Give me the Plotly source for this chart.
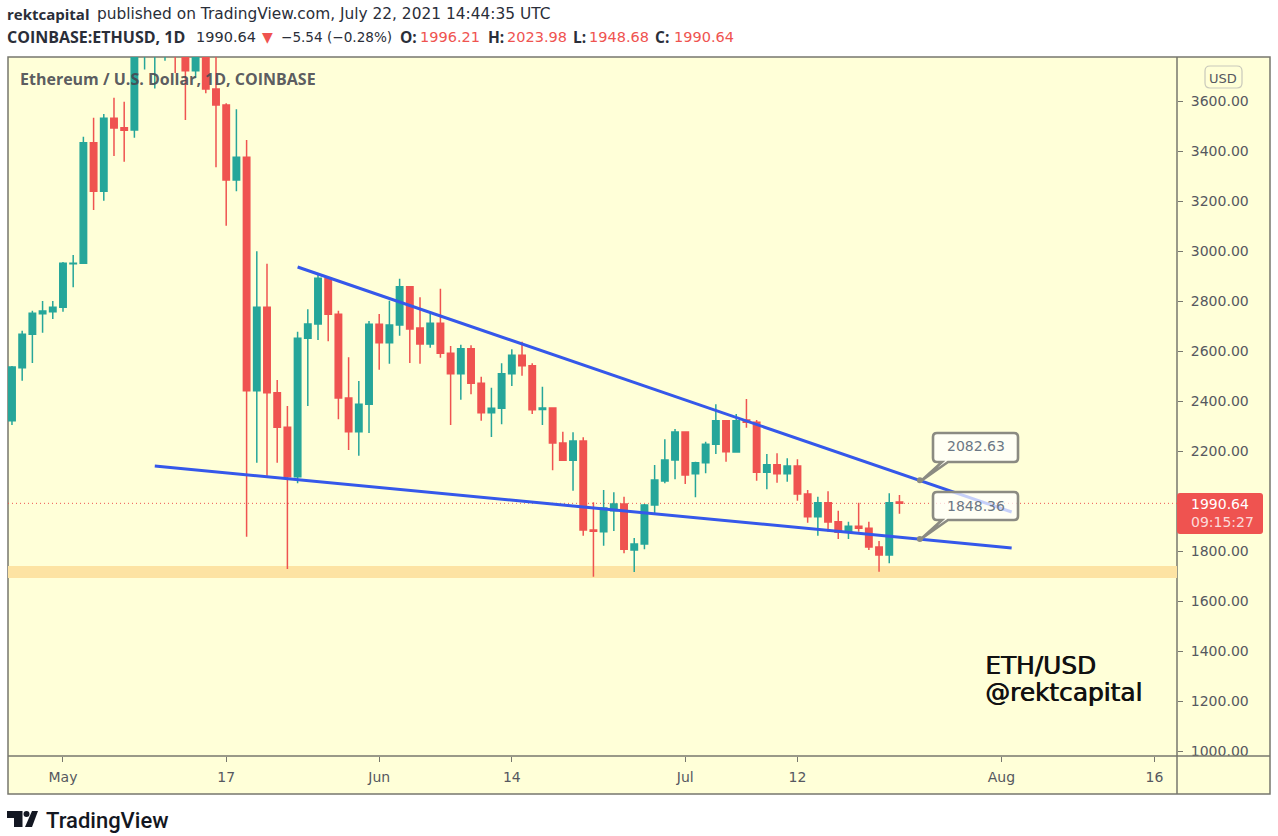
import pandas as pd
import plotly.graph_objects as go

START_DATE = "2021-04-26"
opens = [2321,2533,2667,2749,2757,2775,2949,2951,3433,3239,3531,3493,3484,3900,3925,3950,4170,3810,3721,4080,
         3648,3584,3284,3375,2441,2775,2433,2295,2097,2651,2708,2891,2747,2412,2277,2387,2707,2633,2704,2857,
         2692,2628,2711,2591,2509,2609,2471,2353,2371,2509,2583,2541,2366,2372,2232,2163,2240,1884,1877,1961,
         1988,1804,1828,1984,2080,2164,2276,2109,2153,2227,2321,2196,2324,2315,2115,2145,2109,2140,2028,1937,
         1993,1917,1875,1899,1891,1816,1784,1996.21]
highs = [2540,2681,2761,2800,2800,2956,2984,3457,3533,3548,3613,3597,3950,3990,4200,4200,4380,4030,4150,4130,
         3800,3591,3567,3444,2999,2949,2484,2380,2677,2767,2912,2897,2761,2575,2480,2720,2748,2801,2889,2860,
         2815,2751,2849,2620,2625,2623,2497,2453,2551,2607,2637,2551,2457,2375,2277,2275,2255,1995,2044,2035,
         2017,1852,1988,2144,2247,2288,2278,2157,2237,2387,2323,2348,2408,2324,2188,2191,2171,2167,2044,2017,
         2039,1961,1917,1993,1917,1840,2031,2023.98]
lows = [2304,2481,2552,2673,2728,2757,2855,2948,3164,3201,3380,3357,3453,3726,3650,3761,3712,3524,3692,3631,
        3335,3101,3239,1857,2153,2101,2153,1728,2071,2380,2644,2639,2327,2204,2181,2272,2525,2549,2661,2552,
        2549,2613,2573,2304,2405,2427,2321,2256,2307,2460,2501,2348,2304,2123,2160,2041,1861,1697,1821,1880,
        1791,1716,1807,1951,2071,2087,2068,2015,2111,2188,2157,2193,2293,2081,2047,2073,2077,2001,1913,1861,
        1877,1848,1848,1877,1804,1717,1751,1948.68]
closes = [2536,2667,2751,2760,2775,2951,2951,3433,3239,3531,3492,3483,3900,3925,3950,4170,3810,3721,4080,3648,
          3584,3284,3375,2441,2775,2433,2295,2097,2651,2708,2891,2747,2412,2277,2387,2707,2633,2704,2857,2688,
          2628,2711,2591,2509,2609,2471,2353,2371,2509,2583,2541,2365,2372,2232,2163,2240,1884,1879,1972,1988,
          1807,1828,1984,2084,2164,2276,2104,2153,2227,2321,2197,2321,2315,2115,2145,2109,2140,2028,1937,1993,
          1916,1875,1899,1891,1816,1784,1993,1990.64]

upper_dates = ["2021-05-24", "2021-08-02"]
upper_prices = [2936, 1956]
lower_dates = ["2021-05-10", "2021-08-02"]
lower_prices = [2140, 1812]
band_prices = [1692, 1740]
last_price = 1990.64
callout_values = [2082.63, 1848.36]
callout_date = "2021-07-24"
price_ticks = [1000,1200,1400,1600,1800,2200,2400,2600,2800,3000,3200,3400,3600]
time_tick_dates = ["2021-05-01","2021-05-17","2021-06-01","2021-06-14","2021-07-01","2021-07-12","2021-08-01","2021-08-16"]
time_tick_labels = ["May","17","Jun","14","Jul","12","Aug","16"]

W, H = 1278, 836
L, R, T, B = 8, 1177, 57, 756
def px(x): return (x - L) / (R - L)
def py(y): return (B - y) / (B - T)

BG = "#FFFFD8"
FRAME = "#77776e"
GREEN = "#26A69A"
RED = "#EF5350"
BLUE = "#3558EA"
FONT = "DejaVu Sans"
BOLD = "Open Sans"
TEXT = "#565860"
INK = "#2a2e39"

dates = pd.date_range(START_DATE, periods=len(opens), freq="D")

fig = go.Figure()
fig.add_trace(go.Candlestick(
    x=dates, open=opens, high=highs, low=lows, close=closes,
    increasing=dict(line=dict(color=GREEN, width=1.5), fillcolor=GREEN),
    decreasing=dict(line=dict(color=RED, width=1.5), fillcolor=RED),
    whiskerwidth=0, showlegend=False, hoverinfo="skip",
))
fig.add_trace(go.Scatter(x=upper_dates, y=upper_prices, mode="lines",
                         line=dict(color=BLUE, width=3), showlegend=False, hoverinfo="skip"))
fig.add_trace(go.Scatter(x=lower_dates, y=lower_prices, mode="lines",
                         line=dict(color=BLUE, width=3), showlegend=False, hoverinfo="skip"))

def prect(x0, y0, x1, y1, **kw):
    return dict(type="rect", xref="paper", yref="paper", x0=px(x0), x1=px(x1), y0=py(y0), y1=py(y1), **kw)
def pline(x0, y0, x1, y1, color=FRAME, width=1.5, layer="below"):
    return dict(type="line", xref="paper", yref="paper", x0=px(x0), x1=px(x1), y0=py(y0), y1=py(y1),
                line=dict(color=color, width=width), layer=layer)
def ppath(points, fill):
    d = ""
    for i, p in enumerate(points):
        d += f"{'M' if i == 0 else 'L'}{px(p[0])},{py(p[1])} "
    d += "Z"
    return dict(type="path", xref="paper", yref="paper", path=d, fillcolor=fill,
                line=dict(color=fill, width=0), layer="above")
def rounded(x0, y0, x1, y1, r, tail=None):
    d = f"M{px(x0+r)},{py(y0)} L{px(x1-r)},{py(y0)} Q{px(x1)},{py(y0)} {px(x1)},{py(y0+r)} "
    d += f"L{px(x1)},{py(y1-r)} Q{px(x1)},{py(y1)} {px(x1-r)},{py(y1)} "
    if tail:
        d += f"L{px(tail[3])},{py(y1)} L{px(tail[0])},{py(tail[1])} L{px(tail[2])},{py(y1)} "
    d += f"L{px(x0+r)},{py(y1)} Q{px(x0)},{py(y1)} {px(x0)},{py(y1-r)} L{px(x0)},{py(y0+r)} Q{px(x0)},{py(y0)} {px(x0+r)},{py(y0)} Z"
    return d

shapes = [
    prect(L, T, 1270, 794, fillcolor=BG, line=dict(color=FRAME, width=1.5), layer="below"),
    pline(R, T, R, 794),
    dict(type="rect", xref="paper", yref="y", x0=0, x1=1, y0=band_prices[0], y1=band_prices[1],
         fillcolor="#FDE3A3", line=dict(width=0), layer="below"),
    dict(type="line", xref="paper", yref="y", x0=0, x1=1, y0=last_price, y1=last_price,
         line=dict(color=RED, width=1, dash="1px,3px"), layer="below"),
    # the time axis panel hides the foot of the lowest price label
    prect(1178, 756.5, 1269, 776, fillcolor=BG, line=dict(width=0), layer="above"),
    pline(L, B, 1270, B, layer="above"),
    # price tag
    dict(type="path", xref="paper", yref="paper", path=rounded(1177, 493, 1263, 534, 3),
         fillcolor=RED, line=dict(color=RED, width=0), layer="above"),
    # USD button
    dict(type="path", xref="paper", yref="paper", path=rounded(1205, 66, 1242, 88, 5),
         fillcolor=BG, line=dict(color="#c9c9bb", width=1.2), layer="above"),
]
for (y0, y1, ay) in [(433, 462, 481), (492, 520, 539)]:
    shapes.append(dict(type="path", xref="paper", yref="paper",
                       path=rounded(933, y0, 1018, y1, 4, tail=(921, ay, 942, 948)),
                       fillcolor="rgba(255,255,255,0.72)", line=dict(color="#8b8b82", width=2.6), layer="above"))
for v in callout_values:
    shapes.append(dict(type="circle", xref="x", yref="y", xsizemode="pixel", ysizemode="pixel",
                       xanchor=callout_date, yanchor=v, x0=-3, x1=3, y0=-3, y1=3,
                       fillcolor="#8b8b82", line=dict(width=0), layer="above"))
# TradingView logo
shapes += [
    ppath([(7, 811), (22.5, 811), (22.5, 827), (14, 827), (14, 818), (7, 818)], "#131722"),
    dict(type="circle", xref="paper", yref="paper", x0=px(23.5), x1=px(29.5), y0=py(817), y1=py(811),
         fillcolor="#131722", line=dict(width=0), layer="above"),
    ppath([(32, 811), (38, 811), (32, 827), (25, 827)], "#131722"),
]

def note(x, y, text, size, color=TEXT, anchor="left", family=FONT, **font_kw):
    return dict(xref="paper", yref="paper", x=px(x - 2 if anchor == "left" else x), y=py(y), text=text,
                showarrow=False, xanchor=anchor, yanchor="middle", align="left",
                font=dict(size=size, color=color, family=family, **font_kw))

annotations = [
    note(7, 14, "rektcapital", 15, INK, family=BOLD, weight=700),
    note(97, 14, "published on TradingView.com, July 22, 2021 14:44:35 UTC", 15.4, INK),
    note(7, 37, "COINBASE:ETHUSD, 1D", 16, INK, family=BOLD, weight=700),
    note(196, 37, "1990.64", 14.5, INK),
    note(262, 37, "▼", 14, RED),
    note(281, 37, "−5.54 (−0.28%)", 13.6, INK),
    note(400, 37, "O:", 15.5, INK, family=BOLD, weight=700),
    note(420, 37, "1996.21", 14.5, RED),
    note(488, 37, "H:", 15.5, INK, family=BOLD, weight=700),
    note(507, 37, "2023.98", 14.5, RED),
    note(573, 37, "L:", 15.5, INK, family=BOLD, weight=700),
    note(589, 37, "1948.68", 14.5, RED),
    note(655, 37, "C:", 15.5, INK, family=BOLD, weight=700),
    note(674, 37, "1990.64", 14.5, RED),
    note(20, 79, "Ethereum / U.S. Dollar, 1D, COINBASE", 16, "rgba(70,72,80,0.9)", family=BOLD, weight=700),
    note(1223.5, 78, "USD", 13, TEXT, "center"),
    note(1191, 513, '1990.64<br><span style="color:rgba(255,255,255,0.8)">09:15:27</span>', 14, "#ffffff"),
    note(976, 446, f"{callout_values[0]:.2f}", 14, "#6b7785", "center"),
    note(976, 506, f"{callout_values[1]:.2f}", 14, "#6b7785", "center"),
    note(985, 665, "ETH/USD", 24.8, "#111111", shadow="0.8px 0 0 #111111"),
    note(985, 692, "@rektcapital", 24.8, "#111111", shadow="0.8px 0 0 #111111"),
    note(46, 820, "TradingView", 22, "#131722", family="Roboto", weight=500),
]

fig.update_layout(
    width=W, height=H, autosize=False,
    margin=dict(l=L, r=W - R, t=T, b=H - B, pad=0),
    paper_bgcolor="#ffffff", plot_bgcolor="rgba(0,0,0,0)",
    boxgap=0.1, showlegend=False, hovermode=False, dragmode=False,
    shapes=shapes, annotations=annotations,
    xaxis=dict(type="date", range=["2021-04-25 14:38", "2021-08-18 05:00"], rangeslider=dict(visible=False),
               showgrid=False, zeroline=False, showline=False,
               tickmode="array", tickvals=time_tick_dates, ticktext=time_tick_labels,
               ticks="outside", ticklen=5, tickwidth=1, tickcolor=FRAME,
               ticklabelstandoff=3,
               tickfont=dict(family=FONT, size=14, color=TEXT)),
    yaxis=dict(side="right", range=[980, 3776], showgrid=False, zeroline=False, showline=False,
               tickmode="array", tickvals=price_ticks, tickformat=".2f",
               ticks="outside", ticklen=5, tickwidth=1, tickcolor=FRAME,
               ticklabelstandoff=5,
               tickfont=dict(family=FONT, size=14, color=TEXT)),
)
fig.write_html("out.html", config=dict(displayModeBar=False),
               post_script="document.body.style.margin='0';document.body.style.overflow='hidden';")
